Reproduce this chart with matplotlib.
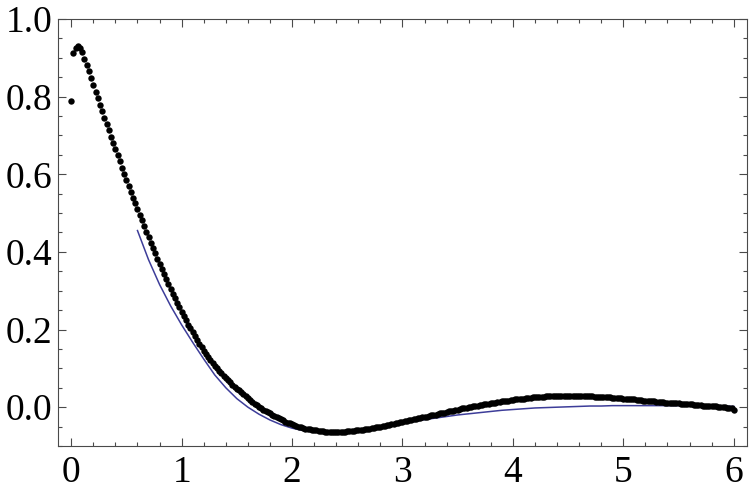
import numpy as np
import matplotlib
matplotlib.use("Agg")
import matplotlib.pyplot as plt
from matplotlib.ticker import MultipleLocator, FormatStrFormatter

# measured points, sampled every 0.02 from 0 to 6
x_start = 0.0
x_step = 0.02
measured_y = [
    0.790, 0.912, 0.925, 0.931, 0.926, 0.914, 0.898, 0.882, 0.866, 0.849,
    0.831, 0.813, 0.796, 0.779, 0.762, 0.745, 0.729, 0.713, 0.697, 0.681,
    0.665, 0.649, 0.633, 0.617, 0.601, 0.586, 0.570, 0.555, 0.540, 0.525,
    0.510, 0.495, 0.481, 0.466, 0.452, 0.438, 0.424, 0.410, 0.396, 0.383,
    0.370, 0.357, 0.344, 0.331, 0.318, 0.305, 0.292, 0.280, 0.268, 0.257,
    0.246, 0.235, 0.224, 0.213, 0.203, 0.193, 0.183, 0.173, 0.164, 0.155,
    0.146, 0.138, 0.130, 0.122, 0.114, 0.107, 0.100, 0.093, 0.087, 0.081,
    0.075, 0.069, 0.064, 0.058, 0.053, 0.048, 0.043, 0.038, 0.033, 0.028,
    0.023, 0.018, 0.013, 0.009, 0.005, 0.001, -0.003, -0.006, -0.010, -0.013,
    -0.016, -0.019, -0.022, -0.025, -0.028, -0.031, -0.034, -0.037, -0.040, -0.042,
    -0.044, -0.046, -0.048, -0.050, -0.052, -0.053, -0.055, -0.056, -0.057, -0.058,
    -0.059, -0.060, -0.061, -0.062, -0.062, -0.063, -0.063, -0.063, -0.064, -0.064,
    -0.064, -0.064, -0.063, -0.063, -0.063, -0.062, -0.062, -0.061, -0.061, -0.060,
    -0.060, -0.059, -0.058, -0.057, -0.056, -0.055, -0.054, -0.053, -0.052, -0.051,
    -0.050, -0.049, -0.048, -0.047, -0.046, -0.044, -0.043, -0.042, -0.040, -0.039,
    -0.038, -0.036, -0.035, -0.034, -0.033, -0.031, -0.030, -0.029, -0.027, -0.026,
    -0.025, -0.024, -0.023, -0.021, -0.020, -0.019, -0.018, -0.016, -0.015, -0.014,
    -0.013, -0.011, -0.010, -0.009, -0.007, -0.006, -0.004, -0.003, -0.002, -0.001,
    0.000, 0.001, 0.002, 0.003, 0.004, 0.005, 0.006, 0.007, 0.008, 0.009,
    0.010, 0.011, 0.012, 0.013, 0.014, 0.015, 0.016, 0.016, 0.017, 0.018,
    0.019, 0.020, 0.020, 0.021, 0.022, 0.022, 0.023, 0.024, 0.024, 0.025,
    0.025, 0.026, 0.026, 0.027, 0.027, 0.028, 0.028, 0.028, 0.029, 0.029,
    0.029, 0.029, 0.029, 0.030, 0.030, 0.030, 0.030, 0.029, 0.029, 0.029,
    0.029, 0.029, 0.029, 0.028, 0.028, 0.028, 0.028, 0.027, 0.027, 0.027,
    0.026, 0.026, 0.026, 0.025, 0.025, 0.024, 0.024, 0.024, 0.023, 0.023,
    0.022, 0.022, 0.021, 0.021, 0.020, 0.020, 0.019, 0.018, 0.018, 0.017,
    0.017, 0.016, 0.016, 0.015, 0.015, 0.014, 0.014, 0.013, 0.013, 0.012,
    0.012, 0.011, 0.011, 0.011, 0.010, 0.010, 0.009, 0.009, 0.008, 0.008,
    0.007, 0.007, 0.006, 0.006, 0.005, 0.005, 0.004, 0.004, 0.003, 0.003,
    0.003, 0.002, 0.002, 0.001, 0.001, 0.000, 0.000, -0.001, -0.001, -0.003,
    -0.008,
]

# model curve, sampled every 0.1 from 0.6 to 6
model_x_start = 0.6
model_x_step = 0.1
model_y = [
    0.455, 0.380, 0.316, 0.261, 0.212, 0.167, 0.124, 0.083, 0.050, 0.022,
    0.000, -0.018, -0.033, -0.045, -0.054, -0.060, -0.064, -0.066, -0.066, -0.065,
    -0.063, -0.059, -0.054, -0.048, -0.042, -0.037, -0.032, -0.028, -0.024, -0.020,
    -0.017, -0.014, -0.011, -0.008, -0.006, -0.004, -0.002, -0.001, 0.000, 0.001,
    0.002, 0.003, 0.003, 0.004, 0.004, 0.004, 0.004, 0.004, 0.004, 0.004,
    0.004, 0.003, 0.003, 0.003, 0.002,
]

x_ticks = [0, 1, 2, 3, 4, 5, 6]
y_ticks = [0.0, 0.2, 0.4, 0.6, 0.8, 1.0]

frame_color = "#4a4a4a"
line_color = "#3d3d99"


def main():
    plt.rcParams["font.family"] = ["Liberation Serif", "DejaVu Serif"]

    mx = x_start + x_step * np.arange(len(measured_y))
    lx = model_x_start + model_x_step * np.arange(len(model_y))

    fig = plt.figure(figsize=(7.5, 4.97), dpi=100)
    ax = fig.add_axes([0.0773, 0.1026, 0.9187, 0.8592])

    ax.plot(mx, measured_y, "o", color="black", markersize=4.6,
            markeredgewidth=0, zorder=3)
    ax.plot(lx, model_y, "-", color=line_color, linewidth=1.1, zorder=2)

    ax.set_xlim(-0.12, 6.12)
    ax.set_ylim(-0.1, 1.0)

    ax.set_xticks(x_ticks)
    ax.set_yticks(y_ticks)
    ax.xaxis.set_minor_locator(MultipleLocator(0.2))
    ax.yaxis.set_minor_locator(MultipleLocator(0.05))
    ax.yaxis.set_major_formatter(FormatStrFormatter("%.1f"))

    # Mathematica-like frame: ticks inside on every side
    ax.tick_params(which="both", direction="in", top=True, right=True,
                   color=frame_color, width=0.8, labelsize=27,
                   labelcolor="black")
    ax.tick_params(which="major", length=5.5)
    ax.tick_params(which="minor", length=3.2)
    ax.tick_params(axis="x", pad=7)
    ax.tick_params(axis="y", pad=4)
    for s in ax.spines.values():
        s.set_color(frame_color)
        s.set_linewidth(0.8)

    fig.savefig("out.png", dpi=100)


if __name__ == "__main__":
    main()
